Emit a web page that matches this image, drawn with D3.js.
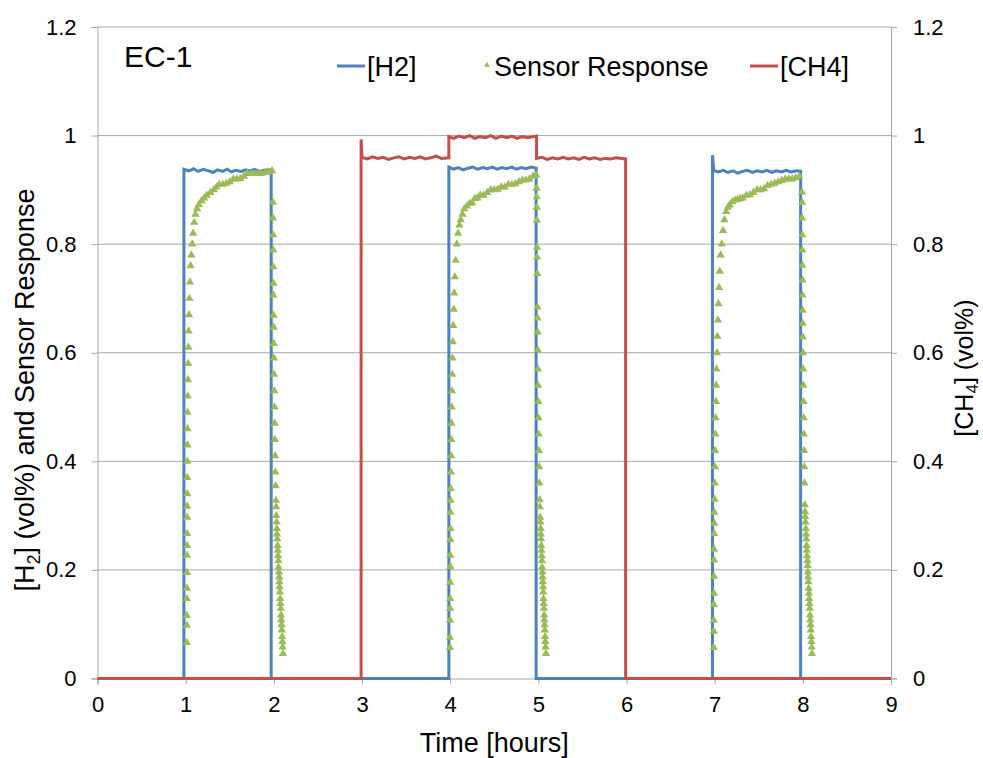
<!DOCTYPE html>
<html>
<head>
  <meta charset="utf-8">
  <title>EC-1 sensor response</title>
  <script src="https://cdnjs.cloudflare.com/ajax/libs/d3/7.8.5/d3.min.js"></script>
  <style>
    body { margin: 0; background: #fff; }
    text { font-family: "Liberation Sans", Arial, sans-serif; fill: #000; }
    .grid line { stroke: #a6a6a6; stroke-width: 1; }
    .axis path, .axis line { stroke: #a6a6a6; }
    .axis text { font-size: 22px; }
  </style>
</head>
<body>
  <div id="chart"></div>
  <script>
    // x/y ticks
    const xTicks = [0, 1, 2, 3, 4, 5, 6, 7, 8, 9];
    const yTicks = [0, 0.2, 0.4, 0.6, 0.8, 1, 1.2];

    // [H2] (vol%) — [time h, value]
    const h2Data = [
      [0, 0], [0.98, 0], [0.98, 0.938], [1.04, 0.935], [1.09, 0.939], [1.14, 0.934], [1.2, 0.938],
      [1.26, 0.935], [1.31, 0.932], [1.36, 0.937], [1.42, 0.934], [1.47, 0.938], [1.52, 0.933],
      [1.57, 0.936], [1.63, 0.934], [1.68, 0.937], [1.73, 0.935], [1.78, 0.938], [1.84, 0.934],
      [1.89, 0.936], [1.97, 0.937], [1.97, 0],
      [3.985, 0], [3.985, 0.942], [4.04, 0.938], [4.09, 0.941], [4.15, 0.937], [4.2, 0.94],
      [4.26, 0.942], [4.31, 0.938], [4.37, 0.941], [4.42, 0.939], [4.48, 0.942], [4.53, 0.938],
      [4.59, 0.941], [4.64, 0.939], [4.7, 0.942], [4.75, 0.938], [4.81, 0.941], [4.86, 0.939],
      [4.92, 0.942], [4.975, 0.94], [4.975, 0],
      [6.975, 0], [6.975, 0.964], [6.99, 0.936], [7.04, 0.933], [7.1, 0.936], [7.15, 0.932],
      [7.21, 0.935], [7.26, 0.931], [7.32, 0.934], [7.37, 0.936], [7.43, 0.932], [7.48, 0.935],
      [7.54, 0.933], [7.59, 0.936], [7.65, 0.932], [7.7, 0.935], [7.76, 0.933], [7.81, 0.936],
      [7.87, 0.933], [7.92, 0.935], [7.975, 0.934], [7.975, 0], [9, 0]
    ];

    // [CH4] (vol%)
    const ch4Data = [
      [0, 0], [2.99, 0], [2.99, 0.993], [3.0, 0.96], [3.06, 0.957], [3.12, 0.961], [3.18, 0.958],
      [3.24, 0.96], [3.3, 0.956], [3.36, 0.959], [3.42, 0.961], [3.48, 0.957], [3.54, 0.96],
      [3.6, 0.958], [3.66, 0.961], [3.72, 0.957], [3.78, 0.959], [3.84, 0.962], [3.9, 0.958],
      [3.985, 0.959], [3.985, 0.998], [4.04, 0.995], [4.1, 0.999], [4.16, 0.996], [4.22, 1.0],
      [4.28, 0.995], [4.34, 0.998], [4.4, 0.996], [4.46, 1.0], [4.52, 0.995], [4.58, 0.999],
      [4.64, 0.996], [4.7, 0.999], [4.76, 0.995], [4.82, 0.998], [4.88, 0.996], [4.98, 0.999],
      [4.98, 0.958], [5.04, 0.96], [5.1, 0.956], [5.16, 0.959], [5.22, 0.957], [5.28, 0.96],
      [5.34, 0.957], [5.4, 0.959], [5.46, 0.956], [5.52, 0.96], [5.58, 0.957], [5.64, 0.959],
      [5.7, 0.956], [5.76, 0.958], [5.82, 0.957], [5.88, 0.959], [5.99, 0.957], [5.99, 0], [9, 0]
    ];

    // Sensor Response, three H2 exposures
    const sensorRun1 = [
      [1.012, 0.066], [1.013, 0.098], [1.013, 0.116], [1.014, 0.147], [1.014, 0.166], [1.015, 0.195],
      [1.015, 0.227], [1.016, 0.245], [1.016, 0.267], [1.017, 0.297], [1.017, 0.317], [1.018, 0.34],
      [1.018, 0.37], [1.019, 0.4], [1.02, 0.43], [1.021, 0.46], [1.022, 0.49], [1.024, 0.52],
      [1.026, 0.55], [1.028, 0.58], [1.031, 0.61], [1.034, 0.64], [1.038, 0.67], [1.043, 0.7],
      [1.049, 0.73], [1.056, 0.76], [1.064, 0.78], [1.074, 0.8], [1.085, 0.82], [1.098, 0.84],
      [1.112, 0.855], [1.13, 0.865], [1.15, 0.873], [1.18, 0.88], [1.21, 0.885], [1.24, 0.89],
      [1.28, 0.895], [1.32, 0.9], [1.35, 0.905], [1.38, 0.91], [1.42, 0.91], [1.46, 0.912],
      [1.5, 0.915], [1.54, 0.92], [1.58, 0.92], [1.62, 0.921], [1.66, 0.925], [1.7, 0.93],
      [1.74, 0.93], [1.78, 0.93], [1.82, 0.931], [1.86, 0.93], [1.9, 0.932], [1.94, 0.933],
      [1.98, 0.935],
      [1.99, 0.877], [1.991, 0.848], [1.992, 0.817], [1.993, 0.789], [1.994, 0.758], [1.995, 0.728],
      [1.996, 0.706], [1.997, 0.669], [1.998, 0.647], [1.999, 0.617], [2.001, 0.59], [2.003, 0.56],
      [2.005, 0.53], [2.007, 0.5], [2.009, 0.47], [2.011, 0.44], [2.014, 0.41], [2.017, 0.38],
      [2.02, 0.355], [2.024, 0.328], [2.026, 0.316], [2.028, 0.3], [2.031, 0.288], [2.034, 0.276],
      [2.036, 0.266], [2.039, 0.257], [2.042, 0.245], [2.045, 0.236], [2.048, 0.226], [2.051, 0.217],
      [2.054, 0.205], [2.057, 0.196], [2.06, 0.187], [2.063, 0.178], [2.066, 0.169], [2.069, 0.159],
      [2.072, 0.147], [2.075, 0.138], [2.078, 0.129], [2.081, 0.117], [2.084, 0.108], [2.087, 0.099],
      [2.09, 0.089], [2.094, 0.077], [2.097, 0.068], [2.1, 0.058], [2.104, 0.046]
    ];

    const sensorRun2 = [
      [3.998, 0.057], [3.998, 0.076], [3.999, 0.107], [3.999, 0.129], [4.0, 0.147], [4.0, 0.177],
      [4.001, 0.206], [4.001, 0.227], [4.002, 0.256], [4.003, 0.276], [4.004, 0.306], [4.005, 0.328],
      [4.007, 0.35], [4.009, 0.38], [4.011, 0.41], [4.013, 0.44], [4.015, 0.47], [4.017, 0.5],
      [4.02, 0.53], [4.023, 0.56], [4.026, 0.59], [4.03, 0.62], [4.035, 0.65], [4.04, 0.68],
      [4.046, 0.71], [4.053, 0.74], [4.062, 0.77], [4.075, 0.8], [4.09, 0.82], [4.105, 0.835],
      [4.12, 0.845], [4.14, 0.855], [4.16, 0.865], [4.19, 0.87], [4.22, 0.875], [4.25, 0.876],
      [4.28, 0.884], [4.31, 0.885], [4.34, 0.89], [4.38, 0.89], [4.42, 0.895], [4.46, 0.9],
      [4.5, 0.9], [4.54, 0.901], [4.58, 0.905], [4.62, 0.905], [4.66, 0.91], [4.7, 0.91],
      [4.74, 0.911], [4.78, 0.915], [4.82, 0.918], [4.86, 0.918], [4.9, 0.92], [4.94, 0.925],
      [4.975, 0.927],
      [4.98, 0.903], [4.981, 0.887], [4.982, 0.868], [4.983, 0.844], [4.985, 0.794], [4.986, 0.776],
      [4.988, 0.746], [4.99, 0.684], [4.991, 0.664], [4.992, 0.638], [4.994, 0.605], [4.996, 0.57],
      [4.998, 0.54], [5.0, 0.51], [5.002, 0.48], [5.004, 0.45], [5.006, 0.42], [5.009, 0.39],
      [5.012, 0.36], [5.016, 0.329], [5.018, 0.316], [5.021, 0.297], [5.023, 0.288], [5.026, 0.276],
      [5.028, 0.266], [5.031, 0.257], [5.033, 0.245], [5.036, 0.236], [5.038, 0.226], [5.041, 0.217],
      [5.043, 0.205], [5.046, 0.196], [5.048, 0.187], [5.051, 0.178], [5.053, 0.169], [5.056, 0.159],
      [5.058, 0.147], [5.061, 0.138], [5.063, 0.129], [5.066, 0.117], [5.068, 0.108], [5.071, 0.099],
      [5.073, 0.089], [5.076, 0.077], [5.079, 0.068], [5.082, 0.058], [5.086, 0.046]
    ];

    const sensorRun3 = [
      [6.99, 0.057], [6.99, 0.087], [6.991, 0.107], [6.991, 0.136], [6.992, 0.157], [6.992, 0.188],
      [6.993, 0.218], [6.994, 0.238], [6.995, 0.267], [6.996, 0.286], [6.997, 0.306], [6.999, 0.33],
      [7.001, 0.36], [7.003, 0.39], [7.005, 0.42], [7.008, 0.45], [7.011, 0.48], [7.014, 0.51],
      [7.017, 0.54], [7.021, 0.57], [7.026, 0.6], [7.031, 0.63], [7.037, 0.66], [7.043, 0.69],
      [7.05, 0.72], [7.058, 0.75], [7.068, 0.78], [7.08, 0.8], [7.095, 0.825], [7.11, 0.845],
      [7.13, 0.86], [7.15, 0.868], [7.17, 0.872], [7.2, 0.878], [7.23, 0.881], [7.26, 0.882],
      [7.29, 0.884], [7.32, 0.885], [7.36, 0.89], [7.4, 0.891], [7.44, 0.895], [7.48, 0.9],
      [7.52, 0.9], [7.56, 0.902], [7.6, 0.908], [7.64, 0.91], [7.68, 0.912], [7.72, 0.915],
      [7.76, 0.917], [7.8, 0.92], [7.84, 0.92], [7.88, 0.92], [7.92, 0.922], [7.96, 0.925],
      [7.99, 0.896], [7.991, 0.877], [7.992, 0.848], [7.993, 0.817], [7.994, 0.789], [7.995, 0.761],
      [7.996, 0.734], [7.997, 0.706], [7.998, 0.678], [7.999, 0.654], [8.0, 0.629], [8.002, 0.6],
      [8.004, 0.57], [8.006, 0.54], [8.008, 0.51], [8.01, 0.48], [8.012, 0.45], [8.014, 0.42],
      [8.016, 0.39], [8.019, 0.36], [8.022, 0.32], [8.025, 0.307], [8.027, 0.298], [8.03, 0.288],
      [8.033, 0.276], [8.036, 0.266], [8.039, 0.257], [8.042, 0.245], [8.045, 0.236], [8.048, 0.226],
      [8.051, 0.217], [8.054, 0.208], [8.057, 0.196], [8.06, 0.187], [8.063, 0.178], [8.066, 0.166],
      [8.069, 0.157], [8.072, 0.147], [8.075, 0.138], [8.078, 0.129], [8.081, 0.117], [8.084, 0.108],
      [8.087, 0.099], [8.09, 0.089], [8.094, 0.077], [8.097, 0.068], [8.1, 0.058], [8.104, 0.046]
    ];

    const colors = { h2: "#4f81bd", sensor: "#9bbb59", ch4: "#c0504d" };

    const width = 983, height = 758;
    const margin = { top: 27, right: 92, bottom: 79.5, left: 97.5 };
    const innerW = width - margin.left - margin.right;
    const innerH = height - margin.top - margin.bottom;

    const svg = d3.select("#chart").append("svg")
      .attr("width", width)
      .attr("height", height);

    const g = svg.append("g")
      .attr("transform", `translate(${margin.left},${margin.top})`);

    const x = d3.scaleLinear().domain([0, 9]).range([0, innerW]);
    const yL = d3.scaleLinear().domain([0, 1.2]).range([innerH, 0]);
    const yR = d3.scaleLinear().domain([0, 1.2]).range([innerH, 0]);

    // horizontal gridlines
    g.append("g").attr("class", "grid")
      .selectAll("line")
      .data(yTicks.filter(d => d > 0))
      .enter().append("line")
      .attr("x1", 0).attr("x2", innerW)
      .attr("y1", d => yL(d)).attr("y2", d => yL(d));

    // axes
    const fmt = d => d3.format("~g")(d);
    g.append("g").attr("class", "axis")
      .call(d3.axisLeft(yL).tickValues(yTicks).tickFormat(fmt).tickSize(6).tickPadding(15));
    g.append("g").attr("class", "axis")
      .attr("transform", `translate(${innerW},0)`)
      .call(d3.axisRight(yR).tickValues(yTicks).tickFormat(fmt).tickSize(6).tickPadding(16));
    g.append("g").attr("class", "axis")
      .attr("transform", `translate(0,${innerH})`)
      .call(d3.axisBottom(x).tickValues(xTicks).tickFormat(fmt).tickSize(6).tickPadding(12));
    g.selectAll(".axis .domain").attr("stroke", "#a6a6a6");

    const line = yScale => d3.line().x(d => x(d[0])).y(d => yScale(d[1]));

    // H2 line
    g.append("path")
      .datum(h2Data)
      .attr("fill", "none")
      .attr("stroke", colors.h2)
      .attr("stroke-width", 3)
      .attr("d", line(yL));

    // Sensor Response markers
    const tri = d3.symbol().type(d3.symbolTriangle).size(30);
    const sensorAll = sensorRun1.concat(sensorRun2, sensorRun3);
    g.append("g")
      .selectAll("path")
      .data(sensorAll)
      .enter().append("path")
      .attr("d", tri)
      .attr("fill", colors.sensor)
      .attr("transform", d => `translate(${x(d[0])},${yL(d[1])})`);

    // CH4 line (secondary axis)
    g.append("path")
      .datum(ch4Data)
      .attr("fill", "none")
      .attr("stroke", colors.ch4)
      .attr("stroke-width", 3)
      .attr("d", line(yR));

    // label & legend
    svg.append("text")
      .attr("x", 124).attr("y", 67)
      .style("font-size", "30px")
      .text("EC-1");

    const leg = svg.append("g").style("font-size", "27px");
    leg.append("line").attr("x1", 337).attr("x2", 365).attr("y1", 66).attr("y2", 66)
      .attr("stroke", colors.h2).attr("stroke-width", 3);
    leg.append("text").attr("x", 367).attr("y", 76).text("[H2]");
    leg.append("path").attr("d", d3.symbol().type(d3.symbolTriangle).size(14))
      .attr("fill", colors.sensor).attr("transform", "translate(487,65)");
    leg.append("text").attr("x", 494).attr("y", 76).text("Sensor Response");
    leg.append("line").attr("x1", 750).attr("x2", 778).attr("y1", 66).attr("y2", 66)
      .attr("stroke", colors.ch4).attr("stroke-width", 3);
    leg.append("text").attr("x", 780).attr("y", 76).text("[CH4]");

    // axis titles
    const leftTitle = svg.append("text")
      .attr("transform", "translate(34,390) rotate(-90)")
      .attr("text-anchor", "middle")
      .style("font-size", "27px");
    leftTitle.append("tspan").text("[H");
    leftTitle.append("tspan").attr("dy", 6).style("font-size", "18px").text("2");
    leftTitle.append("tspan").attr("dy", -6).text("] (vol%) and Sensor Response");

    const rightTitle = svg.append("text")
      .attr("transform", "translate(973,368) rotate(-90)")
      .attr("text-anchor", "middle")
      .style("font-size", "25px");
    rightTitle.append("tspan").text("[CH");
    rightTitle.append("tspan").attr("dy", 5).style("font-size", "17px").text("4");
    rightTitle.append("tspan").attr("dy", -5).text("] (vol%)");

    svg.append("text")
      .attr("x", margin.left + innerW / 2).attr("y", 752)
      .attr("text-anchor", "middle")
      .style("font-size", "27px")
      .text("Time [hours]");
  </script>
</body>
</html>
